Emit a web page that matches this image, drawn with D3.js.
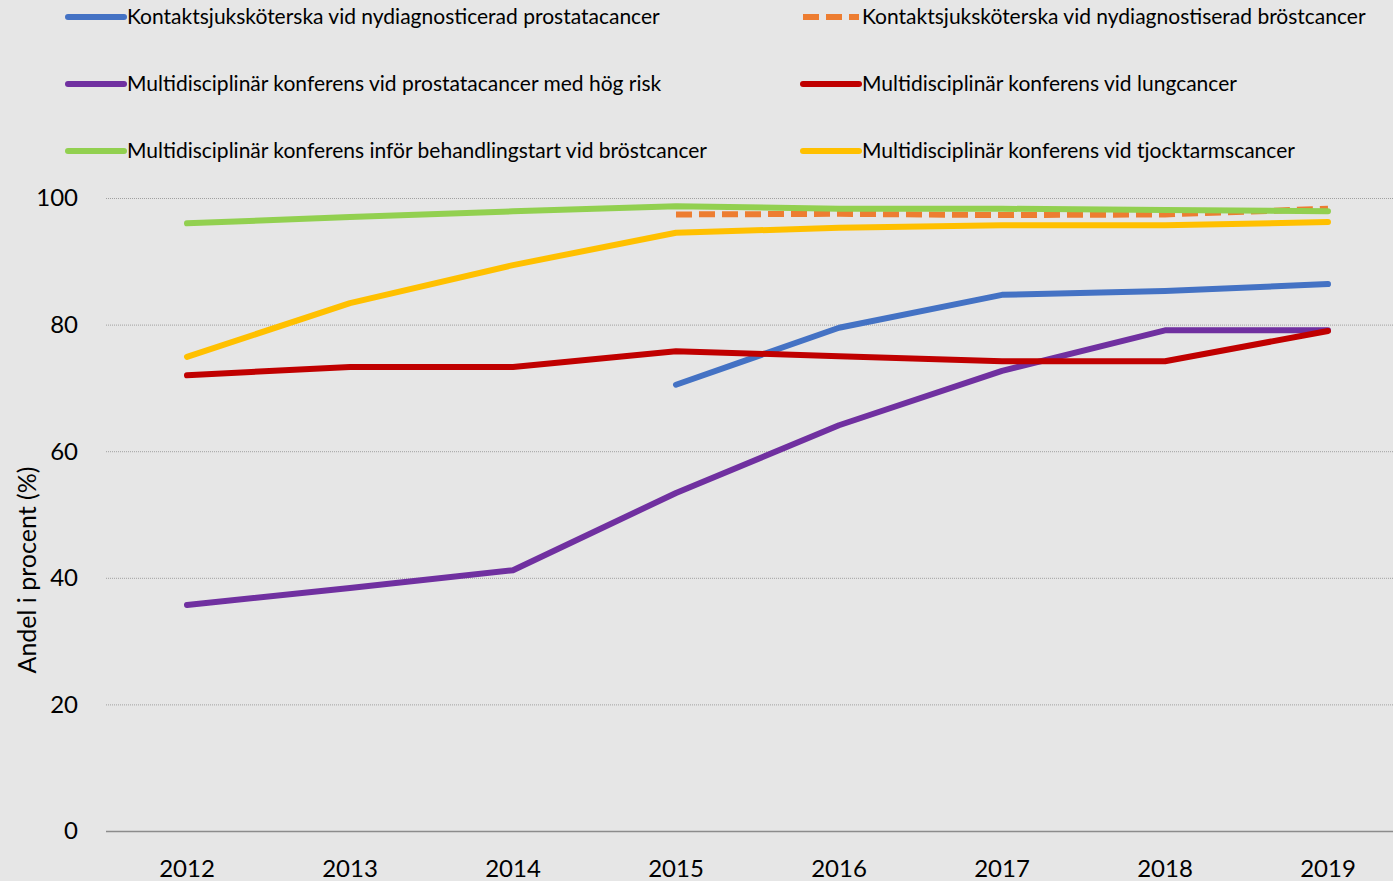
<!DOCTYPE html>
<html>
<head>
<meta charset="utf-8">
<script src="https://cdn.jsdelivr.net/npm/d3@7"></script>
<style>
  body { margin: 0; background: #e6e6e6; }
  svg { display: block; font-family: Lato, "Open Sans", sans-serif; }
</style>
</head>
<body>
<div id="chart"></div>
<script>
// data
var years = ["2012", "2013", "2014", "2015", "2016", "2017", "2018", "2019"];
var yTicks = [0, 20, 40, 60, 80, 100];

var kontaktProstata = [null, null, null, 70.5, 79.5, 84.7, 85.3, 86.4];
var kontaktBrost    = [null, null, null, 97.4, 97.5, 97.3, 97.4, 98.3];
var mdkProstata     = [35.7, 38.4, 41.2, 53.4, 64.1, 72.7, 79.1, 79.1];
var mdkLunga        = [72.0, 73.3, 73.3, 75.8, 75.0, 74.2, 74.2, 79.0];
var mdkBrost        = [96.0, 97.0, 97.9, 98.7, 98.3, 98.3, 98.1, 97.9];
var mdkTjocktarm    = [74.9, 83.4, 89.4, 94.5, 95.3, 95.7, 95.7, 96.2];

var names = [
  "Kontaktsjuksköterska vid nydiagnosticerad prostatacancer",
  "Kontaktsjuksköterska vid nydiagnostiserad bröstcancer",
  "Multidisciplinär konferens vid prostatacancer med hög risk",
  "Multidisciplinär konferens vid lungcancer",
  "Multidisciplinär konferens inför behandlingstart vid bröstcancer",
  "Multidisciplinär konferens vid tjocktarmscancer"
];
var colors = ["#4472c4", "#ed7d31", "#7030a0", "#c00000", "#92d050", "#ffc000"];
var dashed = [false, true, false, false, false, false];
var values = [kontaktProstata, kontaktBrost, mdkProstata, mdkLunga, mdkBrost, mdkTjocktarm];
// drawing order (back to front)
var drawOrder = [0, 2, 3, 5, 1, 4];

var width = 1393, height = 881;
var svg = d3.select("#chart").append("svg")
    .attr("width", width)
    .attr("height", height);

var x = d3.scalePoint()
    .domain(years)
    .range([187, 1328]);

var y = d3.scaleLinear()
    .domain([0, 100])
    .range([831, 198]);

// gridlines
svg.append("g")
  .selectAll("line")
  .data(yTicks.filter(function(d) { return d > 0; }))
  .join("line")
    .attr("x1", 106)
    .attr("x2", width)
    .attr("y1", function(d) { return y(d) + 0.5; })
    .attr("y2", function(d) { return y(d) + 0.5; })
    .attr("stroke", "#a0a0a0")
    .attr("stroke-width", 1)
    .attr("stroke-dasharray", "1,1");

// baseline
svg.append("line")
    .attr("x1", 106)
    .attr("x2", width)
    .attr("y1", y(0) + 0.5)
    .attr("y2", y(0) + 0.5)
    .attr("stroke", "#8c8c8c")
    .attr("stroke-width", 1.5);

// y tick labels
svg.append("g")
  .selectAll("text")
  .data(yTicks)
  .join("text")
    .attr("x", 78)
    .attr("y", function(d) { return y(d); })
    .attr("dy", "0.35em")
    .attr("text-anchor", "end")
    .attr("font-size", 24)
    .attr("fill", "#000")
    .text(function(d) { return d; });

// x tick labels
svg.append("g")
  .selectAll("text")
  .data(years)
  .join("text")
    .attr("x", function(d) { return x(d); })
    .attr("y", 877)
    .attr("text-anchor", "middle")
    .attr("font-size", 24)
    .attr("fill", "#000")
    .text(function(d) { return d; });

// y axis title
svg.append("text")
    .attr("transform", "translate(36,570) rotate(-90)")
    .attr("text-anchor", "middle")
    .attr("font-size", 25)
    .attr("fill", "#000")
    .text("Andel i procent (%)");

// lines
var line = d3.line()
    .defined(function(d) { return d != null; })
    .x(function(d, i) { return x(years[i]); })
    .y(function(d) { return y(d); });

drawOrder.forEach(function(k) {
  svg.append("path")
    .datum(values[k])
    .attr("fill", "none")
    .attr("stroke", colors[k])
    .attr("stroke-width", 6)
    .attr("stroke-linejoin", "round")
    .attr("stroke-linecap", dashed[k] ? "butt" : "round")
    .attr("stroke-dasharray", dashed[k] ? "16,7" : null)
    .attr("d", line);
});

// legend
var legendX = [68, 803];
var legendY = [17, 84, 151];
var legend = svg.append("g")
  .selectAll("g")
  .data(names)
  .join("g")
    .attr("transform", function(d, i) {
      return "translate(" + legendX[i % 2] + "," + legendY[Math.floor(i / 2)] + ")";
    });

legend.append("line")
    .attr("x1", 0)
    .attr("x2", 56)
    .attr("stroke", function(d, i) { return colors[i]; })
    .attr("stroke-width", 6)
    .attr("stroke-linecap", function(d, i) { return dashed[i] ? "butt" : "round"; })
    .attr("stroke-dasharray", function(d, i) { return dashed[i] ? "16,7" : null; });

legend.append("text")
    .attr("x", 59)
    .attr("dy", "0.35em")
    .attr("font-size", 21)
    .attr("fill", "#000")
    .text(function(d) { return d; });
</script>
</body>
</html>
